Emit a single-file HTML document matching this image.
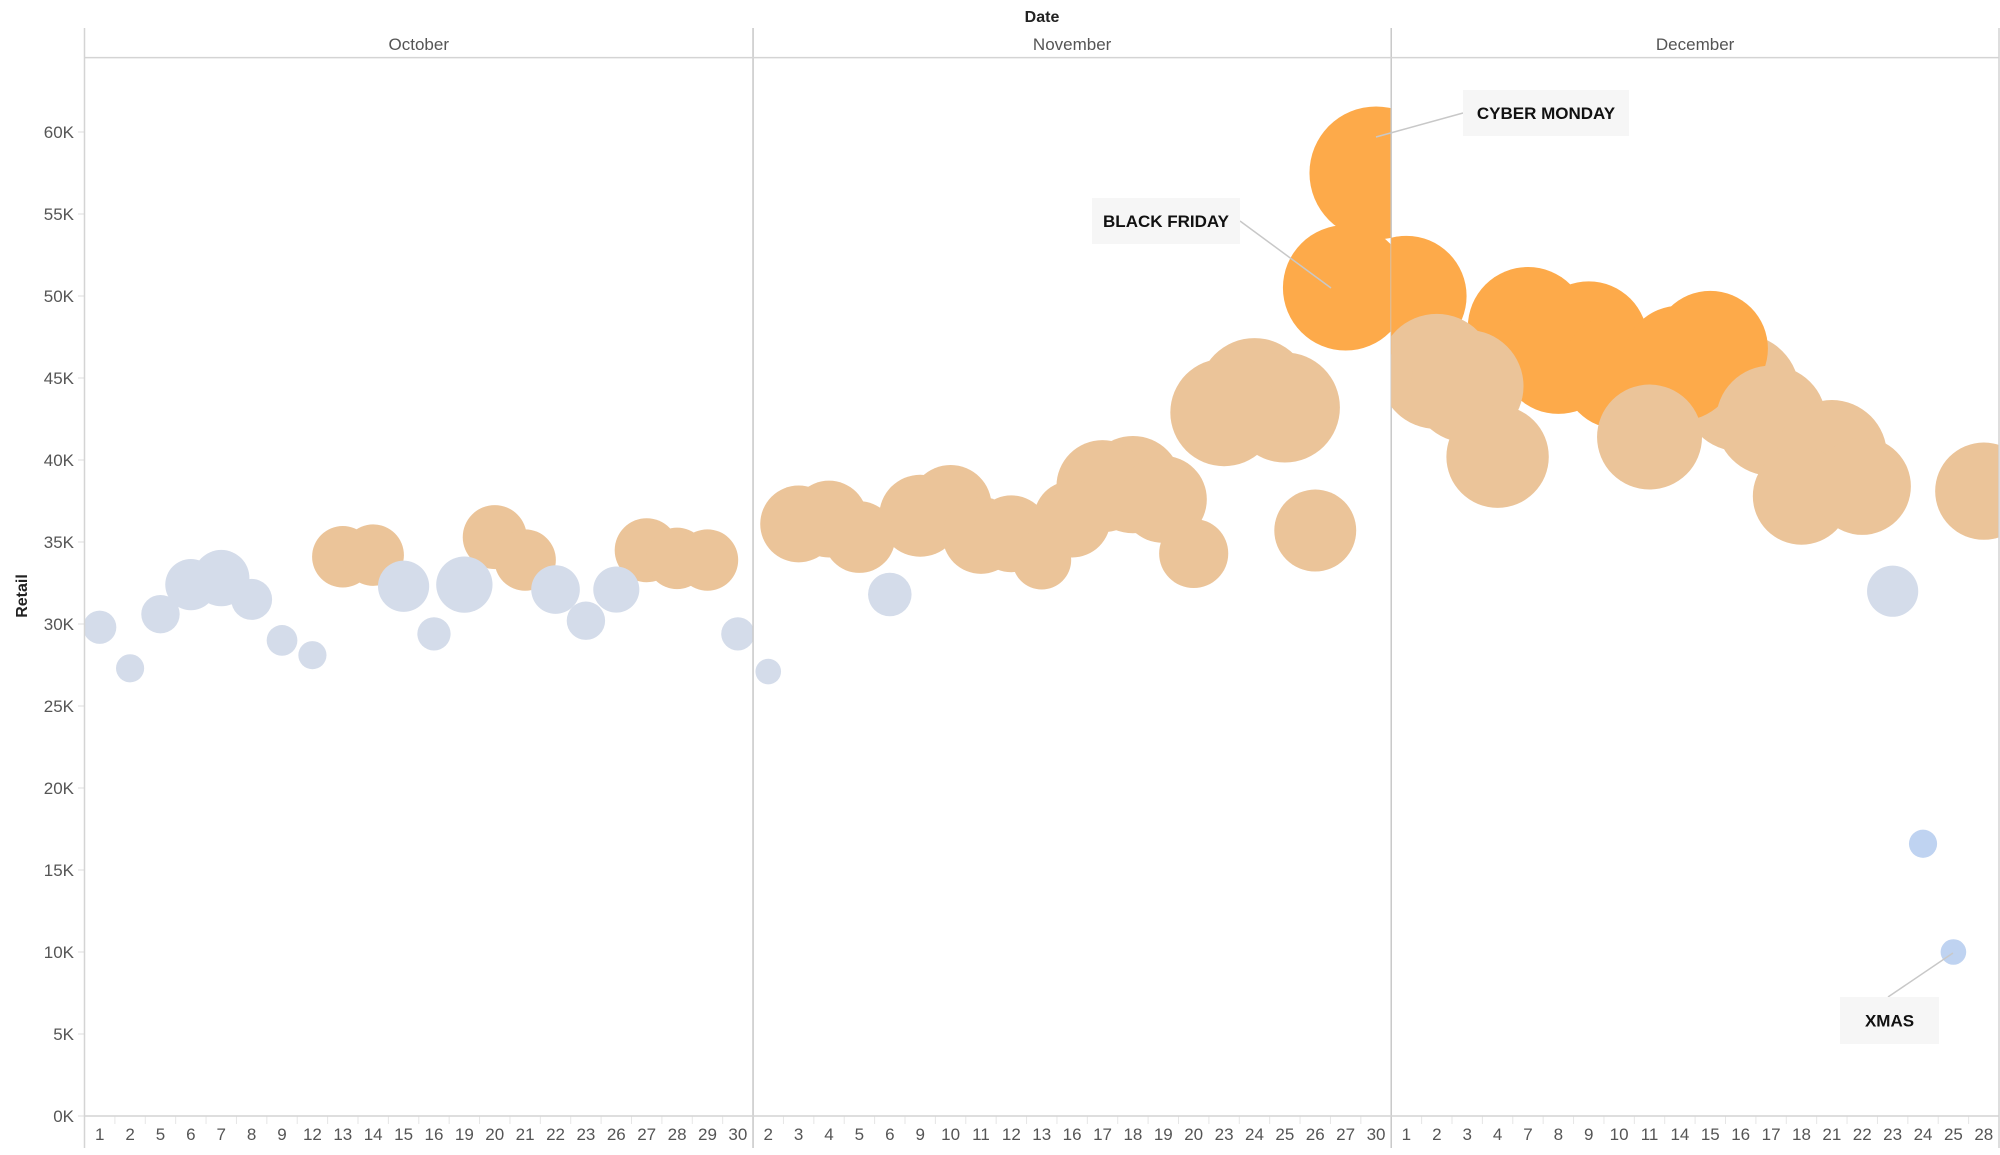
<!DOCTYPE html>
<html><head><meta charset="utf-8"><style>
html,body{margin:0;padding:0;background:#fff;}
svg{display:block;font-family:"Liberation Sans",sans-serif;}
</style></head><body>
<svg id="chart" width="2000" height="1155" viewBox="0 0 2000 1155" xmlns="http://www.w3.org/2000/svg"></svg>
<script>
const months = ["October","November","December"];
const octDays = [1,2,5,6,7,8,9,12,13,14,15,16,19,20,21,22,23,26,27,28,29,30];
const novDays = [2,3,4,5,6,9,10,11,12,13,16,17,18,19,20,23,24,25,26,27,30];
const decDays = [1,2,3,4,7,8,9,10,11,14,15,16,17,18,21,22,23,24,25,28];
const octRetail = [29.8,27.3,30.6,32.4,32.8,31.5,29.0,28.1,34.1,34.2,32.3,29.4,32.4,35.3,33.9,32.1,30.2,32.1,34.5,34.0,33.9,29.4];
const novRetail = [27.1,36.1,36.4,35.3,31.8,36.6,37.2,35.4,35.5,33.9,36.4,38.4,38.5,37.6,34.3,42.9,44.0,43.2,35.7,50.5,57.5];
const decRetail = [50.0,45.4,44.5,40.2,48.1,46.4,47.3,45.4,41.4,45.9,46.8,44.1,42.4,37.8,40.3,38.4,32.0,16.6,10.0,38.1];
const octSize = [16.9,12.1,22.5,40,48.4,25.6,14.4,12.1,57.6,57.6,40,16.9,48.4,62.5,57.6,36.1,22.5,32.4,62.5,57.6,57.6,16.9];
const novSize = [10,90,90,78.4,28.9,102.4,102.4,90,90,52.9,90,129.6,144.4,115.6,72.9,176.4,193.6,184.9,102.4,240.1,270.4];
const decSize = [220.9,202.5,193.6,160,220.9,211.6,211.6,202.5,168.1,202.5,202.5,211.6,184.9,144.4,184.9,144.4,40,12.1,10,144.4];
const octGroup = ["g","g","g","g","g","g","g","g","t","t","g","g","g","t","t","g","g","g","t","t","t","g"];
const novGroup = ["g","t","t","t","g","t","t","t","t","t","t","t","t","t","t","t","t","t","t","o","o"];
const decGroup = ["o","t","t","t","o","o","o","o","t","o","o","t","t","t","t","t","g","b","b","t"];
const yTicks = [0,5,10,15,20,25,30,35,40,45,50,55,60];
const yTickLabels = ["0K","5K","10K","15K","20K","25K","30K","35K","40K","45K","50K","55K","60K"];

const svg = document.getElementById('chart');
const NS = "http://www.w3.org/2000/svg";
const L = 84.5, R = 1999, TOP = 28, HDR = 57.6, AX = 1116, BOT = 1148;
const nBands = octDays.length + novDays.length + decDays.length;
const bw = (R - L) / nBands;
function y(v){ return AX - v * (1115.8 - 131.8) / 60; }
function rad(s){ return Math.sqrt(s * 10) * 1.28; }
const colors = {g:"#d4dcea", t:"#ebc499", o:"#fdaa4a", b:"#bfd3f1"};
function mk(tag, attrs, parent){
  const e = document.createElementNS(NS, tag);
  for (const k in attrs) e.setAttribute(k, attrs[k]);
  (parent || svg).appendChild(e);
  return e;
}
// y ticks
yTicks.forEach((t, i) => {
  const tx = mk('text', {x:74, y:y(t)+6, 'text-anchor':'end', 'font-size':17, fill:'#555'});
  
  
  tx.textContent = yTickLabels[i];
  const tk = mk('line', {x1:78, x2:L, y1:y(t), y2:y(t), stroke:'#ddd', 'stroke-width':1});
  
  
});
const yt = mk('text', {x:0, y:0, transform:'translate(27,596) rotate(-90)', 'text-anchor':'middle', 'font-size':16, 'font-weight':'bold', fill:'#222'});


yt.textContent = 'Retail';
const dt = mk('text', {x:1042, y:22, 'text-anchor':'middle', 'font-size':16, 'font-weight':'bold', fill:'#222'});


dt.textContent = 'Date';

const paneDays = [octDays, novDays, decDays];
const paneRetail = [octRetail, novRetail, decRetail];
const paneSize = [octSize, novSize, decSize];
const paneGroup = [octGroup, novGroup, decGroup];
const defs = mk('defs', {});
let offset = 0;
paneDays.forEach((days, p) => {
  const x0 = L + offset * bw, x1 = L + (offset + days.length) * bw;
  const cp = mk('clipPath', {id:'clip'+p}, defs);
  mk('rect', {x:x0, y:HDR, width:x1-x0, height:AX-HDR}, cp);
  const mt = mk('text', {x:(x0+x1)/2, y:50, 'text-anchor':'middle', 'font-size':17, fill:'#555'});
  
  
  mt.textContent = months[p];
  const g = mk('g', {'clip-path':'url(#clip'+p+')'});
  
  
  const idx = days.map((d, i) => i).sort((a, b) => paneSize[p][b] - paneSize[p][a]);
  idx.forEach(i => {
    const cx = L + (offset + i + 0.5) * bw;
    const c = mk('circle', {cx:cx, cy:y(paneRetail[p][i]), r:rad(paneSize[p][i]), fill:colors[paneGroup[p][i]]}, g);
    
    
  });
  days.forEach((d, i) => {
    const cx = L + (offset + i + 0.5) * bw;
    const lt = mk('text', {x:cx, y:1140, 'text-anchor':'middle', 'font-size':17, fill:'#555'});
    
    
    lt.textContent = d;
    if (i > 0) {
      const tl = mk('line', {x1:L+(offset+i)*bw, x2:L+(offset+i)*bw, y1:AX, y2:AX+8, stroke:'#e6e6e6'});
      
      
    }
  });
  offset += days.length;
  if (p < 2) {
    const dv = mk('line', {x1:x1, x2:x1, y1:TOP, y2:BOT, stroke:'#c8c8c8', 'stroke-width':1.5});
    
    
  }
});
[['header-line',L,HDR,R,HDR],['x-axis-line',L,AX,R,AX],['left-border',L,TOP,L,BOT],['right-border',R,TOP,R,BOT]].forEach(a => {
  const ln = mk('line', {x1:a[1], y1:a[2], x2:a[3], y2:a[4], stroke:'#d4d4d4', 'stroke-width':1.5});
  
  
});
// annotations
[['cyber-monday-annotation','CYBER MONDAY',1463,90,166,46,1376,137,1463,113],
 ['black-friday-annotation','BLACK FRIDAY',1092,198,148,46,1331,288,1240,221],
 ['xmas-annotation','XMAS',1840,997,99,47,1953,953,1888,997]].forEach(a => {
  const g = mk('g', {});
  
  
  mk('line', {x1:a[6], y1:a[7], x2:a[8], y2:a[9], stroke:'#c8c8c8', 'stroke-width':1.5}, g);
  mk('rect', {x:a[2], y:a[3], width:a[4], height:a[5], fill:'#f6f6f6'}, g);
  const t = mk('text', {x:a[2]+a[4]/2, y:a[3]+a[5]/2+6, 'text-anchor':'middle', 'font-size':17, 'font-weight':'bold', fill:'#111'}, g);
  t.textContent = a[1];
});
</script>
</body></html>
